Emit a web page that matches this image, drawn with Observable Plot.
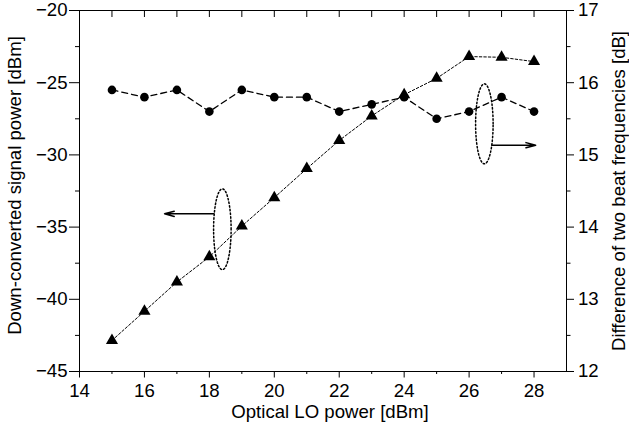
<!DOCTYPE html>
<html>
<head>
<meta charset="utf-8">
<script src="https://cdn.jsdelivr.net/npm/d3@7"></script>
<script src="https://cdn.jsdelivr.net/npm/@observablehq/plot@0.6"></script>
<style>
  html, body { margin: 0; padding: 0; background: white; }
</style>
</head>
<body>
<div id="chart"></div>
<script>
// ---- data ----
const loPower = [15, 16, 17, 18, 19, 20, 21, 22, 23, 24, 25, 26, 27, 28];
const signalPower = [-42.85, -40.83, -38.8, -37.06, -34.93, -32.96, -30.95, -29.0, -27.3, -25.83, -24.7, -23.19, -23.24, -23.54];
const beatDiff = [15.9, 15.8, 15.9, 15.6, 15.9, 15.8, 15.8, 15.6, 15.7, 15.8, 15.5, 15.6, 15.8, 15.6];

const xMajorTicks = [14, 16, 18, 20, 22, 24, 26, 28];
const xMinorTicks = [15, 17, 19, 21, 23, 25, 27];
const xTopTicks = [14, 15, 16, 17, 18, 19, 20, 21, 22, 23, 24, 25, 26, 27, 28, 29];
const leftMajorTicks = [-45, -40, -35, -30, -25, -20];
const leftMinorTicks = [-42.5, -37.5, -32.5, -27.5, -22.5];
const rightMajorTicks = [12, 13, 14, 15, 16, 17];
const rightMinorTicks = [12.5, 13.5, 14.5, 15.5, 16.5];

const xTitle = "Optical LO power [dBm]";
const yLeftTitle = "Down-converted signal power [dBm]";
const yRightTitle = "Difference of two beat frequencies [dB]";

// annotation ellipses (left-axis units) and arrows
const ellipseCx = [18.4, 26.47];
const ellipseCy = [-35.15, -27.85];
const ellipseRx = [0.27, 0.27];
const ellipseRy = [2.8, 2.77];
const arrowX1 = [18.13, 26.7];
const arrowX2 = [16.62, 28.05];
const arrowY = [-34.08, -29.33];

// ---- mapping right axis onto left scale ----
const toLeft = v => -45 + (v - 12) * 5;
const toRight = v => 12 + (v + 45) / 5;
const fmt = d3.format("d");

const triData = loPower.map((x, i) => ({x, y: signalPower[i]}));
const circData = loPower.map((x, i) => ({x, y: toLeft(beatDiff[i])}));

const ellipsePts = [];
ellipseCx.forEach((cx, k) => {
  d3.range(0, 72).forEach(j => {
    const t = j / 72 * 2 * Math.PI;
    ellipsePts.push({id: k, x: cx + ellipseRx[k] * Math.cos(t), y: ellipseCy[k] + ellipseRy[k] * Math.sin(t)});
  });
});

const FONT = "'Liberation Sans', Arial, Helvetica, sans-serif";
const FS = 18.6;

const chart = Plot.plot({
  width: 629,
  height: 434,
  marginLeft: 79,
  marginRight: 63,
  marginTop: 10,
  marginBottom: 63,
  style: {fontFamily: FONT, fontSize: FS + "px", color: "black", background: "white", overflow: "visible"},
  x: {domain: [14, 29]},
  y: {domain: [-45, -20]},
  marks: [
    Plot.frame({stroke: "black", strokeWidth: 1}),
    Plot.axisX(xMajorTicks, {anchor: "bottom", tickSize: 6.5, tickPadding: 6, fontSize: FS, label: null, tickFormat: fmt}),
    Plot.axisX(xMinorTicks, {anchor: "bottom", tickSize: 3, tickFormat: () => "", label: null}),
    Plot.axisX(xTopTicks, {anchor: "top", tickSize: -6, tickFormat: () => "", label: null}),
    Plot.axisY(leftMajorTicks, {anchor: "left", tickSize: 10, tickPadding: 2, fontSize: FS, label: null, tickFormat: fmt}),
    Plot.axisY(leftMinorTicks, {anchor: "left", tickSize: 4, tickFormat: () => "", label: null}),
    Plot.axisY(rightMajorTicks.map(toLeft), {anchor: "right", tickSize: 7, tickPadding: 4.5, fontSize: FS, label: null, tickFormat: d => fmt(toRight(d))}),
    Plot.axisY(rightMinorTicks.map(toLeft), {anchor: "right", tickSize: 3.5, tickFormat: () => "", label: null}),
    Plot.text([xTitle], {frameAnchor: "bottom", textAnchor: "middle", dy: 41, dx: 7, text: d => d, fontSize: FS, lineAnchor: "middle"}),
    Plot.text([yLeftTitle], {frameAnchor: "left", textAnchor: "middle", dx: -64, dy: -5.5, rotate: -90, text: d => d, fontSize: FS, lineAnchor: "middle"}),
    Plot.text([yRightTitle], {frameAnchor: "right", textAnchor: "middle", dx: 52.5, dy: 0, rotate: -90, text: d => d, fontSize: FS, lineAnchor: "middle"}),
    Plot.line(triData, {x: "x", y: "y", stroke: "black", strokeWidth: 1, strokeDasharray: "2.5,2"}),
    Plot.line(circData, {x: "x", y: "y", stroke: "black", strokeWidth: 1.3, strokeDasharray: "6,4"}),
    Plot.line(ellipsePts, {x: "x", y: "y", z: "id", stroke: "black", strokeWidth: 1.5, strokeDasharray: "1.5,2.2", curve: "linear-closed"}),
    Plot.arrow(d3.range(arrowX1.length), {x1: i => arrowX1[i], x2: i => arrowX2[i], y1: i => arrowY[i], y2: i => arrowY[i], stroke: "black", strokeWidth: 1.5, headLength: 10, headAngle: 30}),
    Plot.dot(circData, {x: "x", y: "y", r: 4.3, fill: "black", stroke: null}),
    Plot.dot(triData, {x: "x", y: "y", r: 4.5, symbol: "triangle", fill: "black", stroke: null})
  ]
});
document.getElementById("chart").appendChild(chart);
</script>
</body>
</html>
